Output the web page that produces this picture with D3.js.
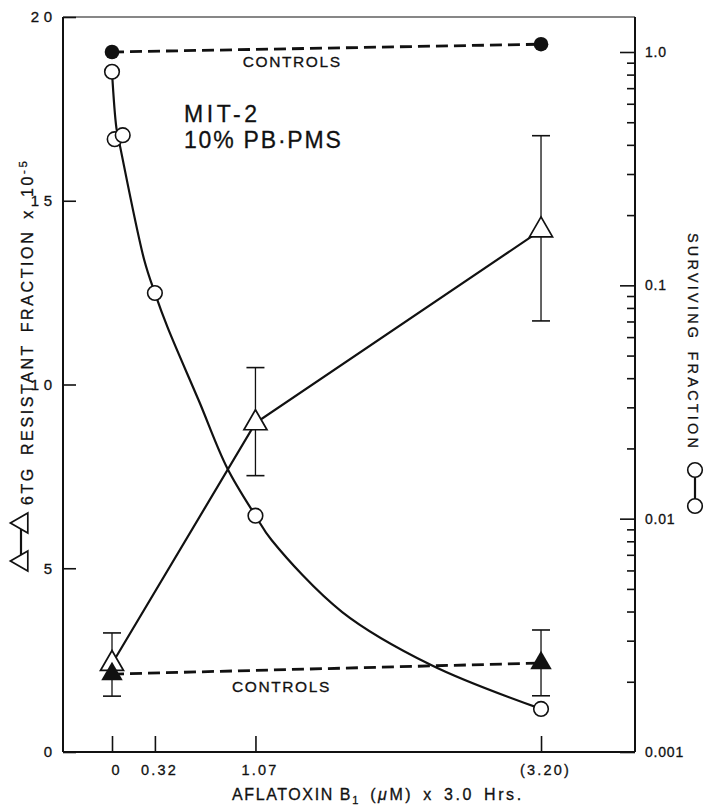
<!DOCTYPE html>
<html>
<head>
<meta charset="utf-8">
<script src="https://cdn.jsdelivr.net/npm/d3@7"></script>
<style>
  html, body { margin: 0; padding: 0; background: #fff; }
  svg { display: block; }
  text { font-family: "Liberation Sans", Arial, Helvetica, sans-serif; fill: #111; stroke: #111; stroke-width: 0.3px; }
</style>
</head>
<body>
<svg id="chart" width="706" height="808"></svg>
<script>
// Aflatoxin B1 dose (uM, 3.0 h exposure)
const doseTicks = [0, 0.32, 1.07, 3.2];
const doseTickLabels = ["0", "0.32", "1.07", "(3.20)"];

// 6TG resistant fraction (x 10^-5), treated cultures, with error limits
const mutDose = [0, 1.07, 3.2];
const mutFraction = [2.4, 8.95, 14.2];
const mutLow = [1.52, 7.52, 11.73];
const mutHigh = [3.24, 10.46, 16.77];

// 6TG resistant fraction, untreated controls
const ctlMutDose = [0, 3.2];
const ctlMutFraction = [2.12, 2.42];
const ctlMutLow = [null, 1.53];
const ctlMutHigh = [null, 3.32];

// Surviving fraction, treated cultures
const survDose = [0, 0.02, 0.08, 0.32, 1.07, 3.2];
const survFraction = [0.823, 0.423, 0.44, 0.0927, 0.0103, 0.00153];

// Hand-fitted survival curve through the treated points
const survCurveDose = [0, 0.033, 0.061, 0.241, 0.32, 0.414, 0.648, 0.859, 1.07, 1.19, 1.717, 2.38, 3.2];
const survCurveFraction = [0.823, 0.472, 0.392, 0.128, 0.0927, 0.0662, 0.0320, 0.01648, 0.0103, 0.0081, 0.00398, 0.00236, 0.00153];

// Surviving fraction, untreated controls
const ctlSurvDose = [0, 3.2];
const ctlSurvFraction = [1.0, 1.08];

// Axis ticks
const leftTicks = [0, 5, 10, 15, 20];
const rightMajor = [0.001, 0.01, 0.1, 1];
const rightMajorLabels = ["0.001", "0.01", "0.1", "1.0"];
const rightMinor = [0.001, 0.01, 0.1].flatMap(p => [2, 3, 4, 5, 6, 7, 8, 9].map(m => m * p));

const INK = "#111";
const svg = d3.select("#chart");

const frame = { left: 63, right: 635, top: 17, bottom: 752 };

const x = d3.scaleLinear().domain([-0.3655, 3.901]).range([frame.left, frame.right]);
const yL = d3.scaleLinear().domain([0, 20]).range([frame.bottom, frame.top]);
const yR = d3.scaleLog().domain([0.001, Math.pow(10, 0.15)]).range([frame.bottom, frame.top]);

// ---- frame ----
const fr = svg.append("g").attr("stroke", INK).attr("fill", "none");
fr.append("line").attr("x1", frame.left).attr("x2", frame.right).attr("y1", frame.top).attr("y2", frame.top).attr("stroke-width", 1.1);
fr.append("line").attr("x1", frame.left).attr("x2", frame.left).attr("y1", frame.top).attr("y2", frame.bottom).attr("stroke-width", 2);
fr.append("line").attr("x1", frame.right).attr("x2", frame.right).attr("y1", frame.top).attr("y2", frame.bottom).attr("stroke-width", 2);
fr.append("line").attr("x1", frame.left).attr("x2", frame.right).attr("y1", frame.bottom).attr("y2", frame.bottom).attr("stroke-width", 2);

function styleAxis(g, fontSize, spacing) {
  g.select(".domain").remove();
  g.selectAll(".tick line").attr("stroke", INK).attr("stroke-width", 1.6);
  g.selectAll(".tick text")
    .attr("fill", INK)
    .style("font-family", "'Liberation Sans', Arial, sans-serif")
    .style("font-size", fontSize + "px")
    .style("letter-spacing", spacing + "px");
}

// left axis: 6TG resistant fraction
const gL = svg.append("g").attr("transform", `translate(${frame.left},0)`)
  .call(d3.axisLeft(yL).tickValues(leftTicks).tickSizeInner(-13).tickSizeOuter(0).tickPadding(6.5).tickFormat(d3.format("d")));
styleAxis(gL, 15, 4.5);

// right axis: surviving fraction (log)
const gR = svg.append("g").attr("transform", `translate(${frame.right},0)`)
  .call(d3.axisRight(yR).tickValues(rightMajor).tickSizeInner(-15).tickSizeOuter(0).tickPadding(10)
    .tickFormat((d, i) => rightMajorLabels[i]));
styleAxis(gR, 14, 0.8);
const gRm = svg.append("g").attr("transform", `translate(${frame.right},0)`)
  .call(d3.axisRight(yR).tickValues(rightMinor).tickSizeInner(-8).tickSizeOuter(0).tickFormat(""));
styleAxis(gRm, 14, 0);

// bottom axis: dose
const gB = svg.append("g").attr("transform", `translate(0,${frame.bottom})`)
  .call(d3.axisBottom(x).tickValues(doseTicks).tickSizeInner(-16).tickSizeOuter(0).tickPadding(13)
    .tickFormat((d, i) => doseTickLabels[i]));
styleAxis(gB, 14.5, 2.2);
gB.selectAll(".tick text").attr("dx", 4);

// ---- series lines ----
const curvePts = survCurveDose.map((d, i) => [d, survCurveFraction[i]]);
svg.append("path")
  .attr("d", d3.line().x(d => x(d[0])).y(d => yR(d[1])).curve(d3.curveCatmullRom.alpha(0.5))(curvePts))
  .attr("fill", "none").attr("stroke", INK).attr("stroke-width", 2.2);

const mutPts = mutDose.map((d, i) => [d, mutFraction[i]]);
svg.append("path")
  .attr("d", d3.line().x(d => x(d[0])).y(d => yL(d[1]))(mutPts))
  .attr("fill", "none").attr("stroke", INK).attr("stroke-width", 2.2);

const ctlSurvPts = ctlSurvDose.map((d, i) => [d, ctlSurvFraction[i]]);
svg.append("path")
  .attr("d", d3.line().x(d => x(d[0])).y(d => yR(d[1]))(ctlSurvPts))
  .attr("fill", "none").attr("stroke", INK).attr("stroke-width", 2.8).attr("stroke-dasharray", "12,6");

const ctlMutPts = ctlMutDose.map((d, i) => [d, ctlMutFraction[i]]);
svg.append("path")
  .attr("d", d3.line().x(d => x(d[0])).y(d => yL(d[1]))(ctlMutPts))
  .attr("fill", "none").attr("stroke", INK).attr("stroke-width", 2.8).attr("stroke-dasharray", "12,6");

// ---- error bars ----
function errorBars(doses, lows, highs) {
  const g = svg.append("g").attr("stroke", INK).attr("stroke-width", 1.3).attr("fill", "none");
  doses.forEach((d, i) => {
    if (lows[i] == null) return;
    const cx = x(d);
    g.append("line").attr("x1", cx).attr("x2", cx).attr("y1", yL(lows[i])).attr("y2", yL(highs[i]));
    [lows[i], highs[i]].forEach(v => {
      g.append("line").attr("x1", cx - 9).attr("x2", cx + 9).attr("y1", yL(v)).attr("y2", yL(v)).attr("stroke-width", 1.6);
    });
  });
}
errorBars(mutDose, mutLow, mutHigh);
errorBars(ctlMutDose, ctlMutLow, ctlMutHigh);

// ---- markers ----
const triOpen = d3.symbol(d3.symbolTriangle, 230);
const triFill = d3.symbol(d3.symbolTriangle, 200);

svg.append("g").selectAll("path").data(mutPts).join("path")
  .attr("d", triOpen)
  .attr("transform", d => `translate(${x(d[0])},${yL(d[1])})`)
  .attr("fill", "#fff").attr("stroke", INK).attr("stroke-width", 1.7);

svg.append("g").selectAll("path").data(ctlMutPts).join("path")
  .attr("d", triFill)
  .attr("transform", d => `translate(${x(d[0])},${yL(d[1])})`)
  .attr("fill", INK);

const survPts = survDose.map((d, i) => [d, survFraction[i]]);
svg.append("g").selectAll("circle").data(survPts).join("circle")
  .attr("cx", d => x(d[0])).attr("cy", d => yR(d[1])).attr("r", 7.3)
  .attr("fill", "#fff").attr("stroke", INK).attr("stroke-width", 1.6);

svg.append("g").selectAll("circle").data(ctlSurvPts).join("circle")
  .attr("cx", d => x(d[0])).attr("cy", d => yR(d[1])).attr("r", 7.3)
  .attr("fill", INK);

// ---- annotations ----
svg.append("text").attr("x", x(0.975)).attr("y", yR(0.86))
  .style("font-size", "15.5px").style("letter-spacing", "1.6px").text("CONTROLS");
svg.append("text").attr("x", x(0.895)).attr("y", yL(1.63))
  .style("font-size", "15.5px").style("letter-spacing", "1.6px").text("CONTROLS");
svg.append("text").attr("x", x(0.537)).attr("y", yL(17.14))
  .style("font-size", "23px").style("letter-spacing", "3.6px").text("MIT-2");
svg.append("text").attr("x", x(0.537)).attr("y", yL(16.43))
  .style("font-size", "23px").style("letter-spacing", "1.8px").text("10% PB·PMS");

// ---- x-axis title ----
const xt = svg.append("text").attr("x", 232).attr("y", 800)
  .style("font-size", "16px");
xt.append("tspan").style("letter-spacing", "1.6px").text("AFLATOXIN B");
xt.append("tspan").attr("dy", 4).style("font-size", "11px").text("1");
xt.append("tspan").attr("dy", -4).attr("dx", 12).style("letter-spacing", "2.5px").text("(");
xt.append("tspan").style("font-style", "italic").style("letter-spacing", "2.5px").text("μ");
xt.append("tspan").style("letter-spacing", "2.6px").style("word-spacing", "3px").text("M) x 3.0 Hrs.");

// ---- left title with triangle key ----
const lt = svg.append("text")
  .attr("transform", "translate(33,505) rotate(-90)")
  .style("font-size", "16px").style("letter-spacing", "2.6px").style("word-spacing", "4px");
lt.append("tspan").text("6TG RESISTANT FRACTION x 10");
lt.append("tspan").attr("dy", -6).style("font-size", "11.5px").text("-5");

const keyL = svg.append("g");
keyL.append("line").attr("x1", 21).attr("x2", 21).attr("y1", 523).attr("y2", 561)
  .attr("stroke", INK).attr("stroke-width", 2.2);
[523, 561].forEach(cy => {
  keyL.append("path").attr("d", d3.symbol(d3.symbolTriangle, 175))
    .attr("transform", `translate(22,${cy}) rotate(-90)`)
    .attr("fill", "#fff").attr("stroke", INK).attr("stroke-width", 1.7);
});

// ---- right title with circle key ----
svg.append("text")
  .attr("transform", "translate(688,233) rotate(90)")
  .style("font-size", "14.5px").style("letter-spacing", "3.2px").style("word-spacing", "3px")
  .text("SURVIVING FRACTION");

const keyR = svg.append("g");
keyR.append("line").attr("x1", 695).attr("x2", 695).attr("y1", 470).attr("y2", 506)
  .attr("stroke", INK).attr("stroke-width", 2.2);
[470, 506].forEach(cy => {
  keyR.append("circle").attr("cx", 695).attr("cy", cy).attr("r", 7.3)
    .attr("fill", "#fff").attr("stroke", INK).attr("stroke-width", 1.6);
});
</script>
</body>
</html>
